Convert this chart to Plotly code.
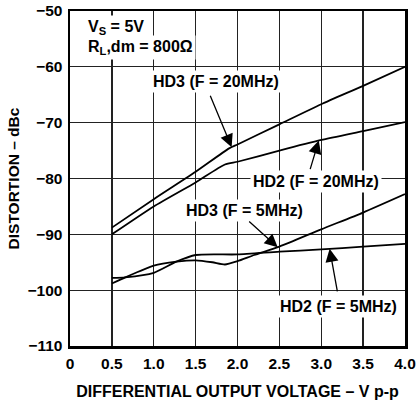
import numpy as np
import plotly.graph_objects as go

# ---- data ----
hd3_20_x = [0.5, 1.0, 1.5, 1.9, 2.0, 2.5, 3.0, 3.5, 4.0]
hd3_20_y = [-88.8, -83.7, -78.8, -74.6, -73.9, -70.3, -66.7, -63.4, -60.0]

hd2_20_x = [0.5, 1.0, 1.5, 1.85, 2.0, 2.5, 3.0, 3.5, 4.0]
hd2_20_y = [-90.0, -85.0, -80.7, -77.5, -77.0, -75.0, -73.1, -71.5, -69.9]

hd3_5_x = [0.5, 0.66, 1.0, 1.27, 1.5, 1.7, 1.85, 2.0, 2.2, 2.5, 3.0, 3.5, 4.0]
hd3_5_y = [-98.8, -97.7, -95.6, -94.9, -94.65, -95.0, -95.4, -94.8, -93.7, -92.2, -89.1, -86.1, -82.8]

hd2_5_x = [0.5, 0.66, 1.0, 1.27, 1.5, 2.0, 2.5, 3.0, 3.5, 4.0]
hd2_5_y = [-97.8, -97.7, -96.9, -94.9, -93.7, -93.6, -93.1, -92.7, -92.2, -91.7]

x_tickvals = [0, 0.5, 1.0, 1.5, 2.0, 2.5, 3.0, 3.5, 4.0]
x_ticktext = ["0", "0.5", "1.0", "1.5", "2.0", "2.5", "3.0", "3.5", "4.0"]
y_tickvals = [-110, -100, -90, -80, -70, -60, -50]
y_ticktext = ["\u2212110", "\u2212100", "\u221290", "\u221280", "\u221270", "\u221260", "\u221250"]

FONT = "Liberation Sans, Arial, sans-serif"

fig = go.Figure()
for xs, ys, name in [(hd3_20_x, hd3_20_y, "HD3 (F = 20MHz)"),
                     (hd2_20_x, hd2_20_y, "HD2 (F = 20MHz)"),
                     (hd3_5_x, hd3_5_y, "HD3 (F = 5MHz)"),
                     (hd2_5_x, hd2_5_y, "HD2 (F = 5MHz)")]:
    fig.add_trace(go.Scatter(x=xs, y=ys, mode="lines", name=name,
                             line=dict(color="black", width=1.8, shape="spline", smoothing=0.6),
                             showlegend=False, hoverinfo="skip"))

tfont = dict(family=FONT, size=15.5, color="black", weight="bold")
afont = dict(family=FONT, size=16, color="black", weight="bold")

# text labels
labels = [
    ("V<sub>S</sub> = 5V", 0.18, -52.9, "left"),
    ("R<sub>L</sub>,dm = 800\u03a9", 0.18, -56.45, "left"),
    ("HD3 (F = 20MHz)", 1.743, -62.7, "center"),
    ("HD2 (F = 20MHz)", 2.937, -80.45, "center"),
    ("HD3 (F = 5MHz)", 2.078, -85.8, "center"),
    ("HD2 (F = 5MHz)", 3.21, -103.0, "center"),
]
for txt, x, y, anc in labels:
    fig.add_annotation(x=x, y=y, xref="x", yref="y", text=txt, showarrow=False,
                       xanchor=anc, yanchor="middle", font=afont,
                       bgcolor="white", borderpad=2)

# arrows (head on the curve, tail offset in pixels)
arrows = [
    (hd3_20_x, hd3_20_y, 1.93, -22, -53),
    (hd2_20_x, hd2_20_y, 2.97, -9, 30),
    (hd3_5_x, hd3_5_y, 2.48, -30, -27),
    (hd2_5_x, hd2_5_y, 3.10, 8, 44),
]
for xs, ys, xh, ax, ay in arrows:
    yh = float(np.interp(xh, xs, ys))
    fig.add_annotation(x=xh, y=yh, xref="x", yref="y", text="", showarrow=True,
                       ax=ax, ay=ay, arrowhead=2, arrowsize=2.0, arrowwidth=1.3,
                       arrowcolor="black", standoff=0)

fig.update_xaxes(range=[0, 4.0], tickvals=x_tickvals, ticktext=x_ticktext,
                 showgrid=True, gridcolor="#222", gridwidth=1.3,
                 showline=True, linecolor="black", linewidth=2.5, mirror=True,
                 ticks="", zeroline=False, tickfont=tfont, ticklabelstandoff=2,
                 title=dict(text="DIFFERENTIAL OUTPUT VOLTAGE \u2013 V p-p",
                            font=dict(family=FONT, size=16, color="black", weight="bold"),
                            standoff=19))
fig.update_yaxes(range=[-110, -50], tickvals=y_tickvals, ticktext=y_ticktext,
                 showgrid=True, gridcolor="#222", gridwidth=1.3,
                 showline=True, linecolor="black", linewidth=2.5, mirror=True,
                 ticks="", zeroline=False, tickfont=tfont, ticklabelstandoff=2,
                 title=dict(text="DISTORTION \u2013 dBc",
                            font=dict(family=FONT, size=15.5, color="black", weight="bold"),
                            standoff=4))

fig.update_layout(width=419, height=400,
                  margin=dict(l=70, r=14, t=11, b=54, autoexpand=False),
                  plot_bgcolor="white", paper_bgcolor="white",
                  font=dict(family=FONT, color="black"))

fig.write_html("out.html", config={"displayModeBar": False, "staticPlot": True},
               post_script="document.body.style.margin='0';document.body.style.overflow='hidden';")
